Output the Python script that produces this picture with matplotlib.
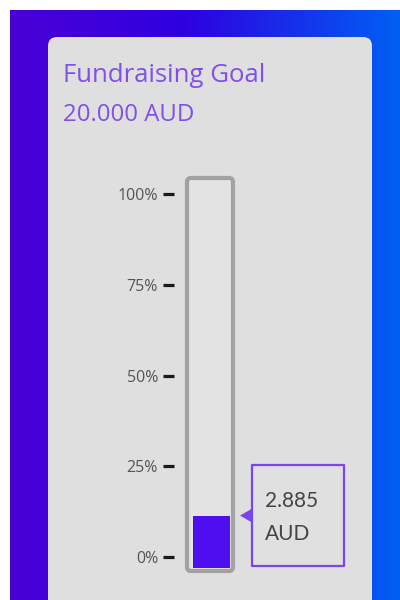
import numpy as np
import matplotlib
matplotlib.use('Agg')
import matplotlib.pyplot as plt
from matplotlib.patches import FancyBboxPatch, Rectangle, Polygon
from matplotlib.colors import LinearSegmentedColormap

goal = 20000
raised = 2885
tick_vals = [0, 25, 50, 75, 100]
tick_labels = ['0%', '25%', '50%', '75%', '100%']
title = 'Fundraising Goal'
goal_label = '20.000 AUD'
raised_label = '2.885'
unit = 'AUD'

plt.rcParams['font.family'] = ['Lato', 'DejaVu Sans']
wide = ['Open Sans', 'DejaVu Sans']

fig = plt.figure(figsize=(4, 6), dpi=100)
fig.patch.set_facecolor('white')

# background, pixel coordinates
bg = fig.add_axes([0, 0, 1, 1])
bg.set_xlim(0, 400)
bg.set_ylim(600, 0)
bg.axis('off')

grad = LinearSegmentedColormap.from_list(
    'bgrad', [(0, '#4a00d4'), (0.45, '#2e00e0'), (1, '#0060f4')])
bg.imshow(np.linspace(0, 1, 256)[None, :], cmap=grad, aspect='auto',
          extent=(10, 400, 600, 10), zorder=0)

card = FancyBboxPatch((48, 37), 324, 600, boxstyle='round,pad=0,rounding_size=9',
                      fc='#dfdfdf', ec='none', zorder=1)
bg.add_patch(card)

bg.text(63, 76, title, color='#8150e6', fontsize=18.5, family=wide,
        va='center', ha='left', zorder=2)
bg.text(63, 115, goal_label, color='#8150e6', fontsize=17.3, family=wide,
        va='center', ha='left', zorder=2)

tube = FancyBboxPatch((187, 178), 46, 393, boxstyle='round,pad=0,rounding_size=4',
                      fc='#e3e3e3', ec='#a2a2a2', lw=3, zorder=2)
bg.add_patch(tube)

# thermometer axes, y in percent
ax = fig.add_axes([185 / 400, 24.8 / 600, 50 / 400, 399.3 / 600])
ax.set_facecolor('none')
ax.set_ylim(-5, 105)
ax.set_xlim(-0.5, 0.5)
for s in ['top', 'right', 'bottom']:
    ax.spines[s].set_visible(False)
ax.spines['left'].set_position(('outward', 7.9))
ax.spines['left'].set_visible(False)
ax.set_xticks([])
ax.set_yticks(tick_vals)
ax.set_yticklabels(tick_labels, family=wide)
ax.tick_params(axis='y', length=7.9, width=2.3, color='#1a1a1a', pad=3.6,
               labelsize=11.5, labelcolor='#555555')

pct = raised / goal * 100
base = -3
ax.bar(0.03, pct, bottom=base, width=0.74, color='#4d0ff0', zorder=3)
top = base + pct

tr = ax.get_yaxis_transform()
box = Rectangle((1.34, top - 13.9), 1.84, 27.8, transform=tr, fc='#e0e0e0',
                ec='#7a45ee', lw=1.6, clip_on=False, joinstyle='round')
ax.add_patch(box)
tri = Polygon([(1.1, top), (1.34, top + 1.9), (1.34, top - 1.9)], closed=True,
              transform=tr, fc='#7a45ee', ec='none', clip_on=False)
ax.add_patch(tri)
ax.text(1.6, top + 4.1, raised_label, transform=tr, fontsize=15, color='#444444',
        va='center', ha='left')
ax.text(1.6, top - 5.2, unit, transform=tr, fontsize=15, color='#444444',
        va='center', ha='left')

fig.savefig('out.png', dpi=100)
